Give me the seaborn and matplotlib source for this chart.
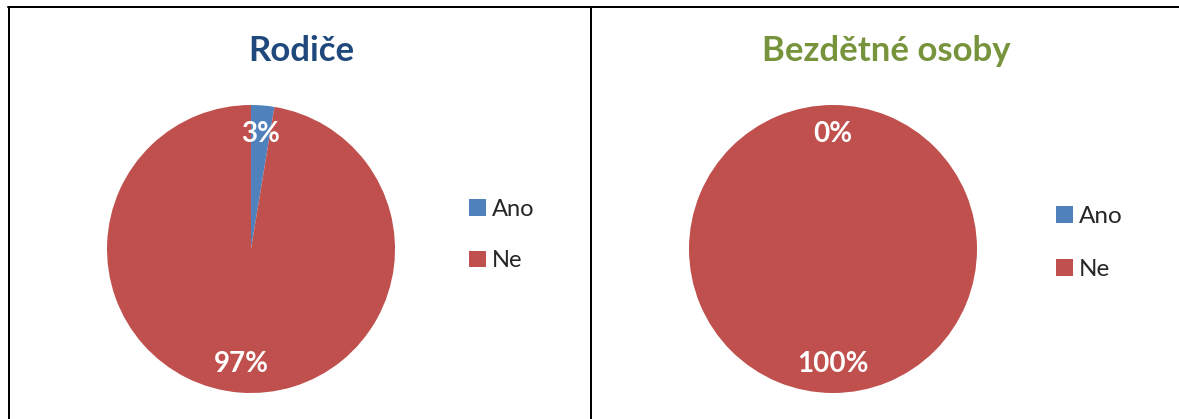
import matplotlib
matplotlib.use("Agg")
import matplotlib.pyplot as plt
from matplotlib.lines import Line2D
from matplotlib.patches import Patch
import seaborn as sns

# ---- data ----
categories = ["Ano", "Ne"]
rodice_values = [2.6, 97.4]
bezdetne_values = [0.0, 100.0]
titles = ["Rodiče", "Bezdětné osoby"]

sns.set_theme(style="white")
plt.rcParams["font.family"] = ["Lato", "DejaVu Sans"]

colors = ["#4F81BD", "#C0504D"]
title_colors = ["#1F497D", "#77933C"]

W, H = 1179, 419
fig = plt.figure(figsize=(W / 100, H / 100), dpi=100)
fig.patch.set_facecolor("white")

R = 144
centers = [(251, 249), (833, 249)]
title_x = [301, 886]
legend_pos = [(469, 235), (1056, 243)]
legend_size = [17, 17.5]
legend_spacing = [1.3, 1.33]

for i, (vals, cen) in enumerate(zip([rodice_values, bezdetne_values], centers)):
    cx, cy = cen
    ax = fig.add_axes([(cx - R) / W, (H - cy - R) / H, 2 * R / W, 2 * R / H])
    wedges, texts, autotexts = ax.pie(
        vals, colors=colors, startangle=90, counterclock=False,
        autopct="%.0f%%", pctdistance=0.8, radius=1,
        wedgeprops=dict(linewidth=0),
        textprops=dict(color="white", fontsize=20, fontweight="bold"),
    )
    ax.set_xlim(-1, 1)
    ax.set_ylim(-1, 1)
    ax.set_aspect("equal")
    ax.axis("off")

    fig.text(title_x[i] / W, 1 - 51 / H, titles[i], ha="center", va="center",
             fontsize=25, fontweight="bold", color=title_colors[i])

    handles = [Patch(facecolor=c, edgecolor="none") for c in colors]
    lx, ly = legend_pos[i]
    fig.legend(handles, categories, loc="center left",
               bbox_to_anchor=(lx / W, 1 - ly / H), frameon=False,
               fontsize=legend_size[i], handlelength=0.7, handleheight=0.7,
               handletextpad=0.25, labelspacing=legend_spacing[i],
               borderpad=0, borderaxespad=0)

# panel borders
lw = 2 * 72 / 100
fig.add_artist(Line2D([8 / W, 1], [1 - 7.5 / H, 1 - 7.5 / H], color="black", lw=lw,
                      transform=fig.transFigure))
fig.add_artist(Line2D([8.5 / W, 8.5 / W], [0, 1 - 7.5 / H], color="black", lw=lw,
                      transform=fig.transFigure))
fig.add_artist(Line2D([590.5 / W, 590.5 / W], [0, 1 - 7.5 / H], color="black", lw=lw,
                      transform=fig.transFigure))

fig.savefig("out.png", dpi=100, facecolor="white")
